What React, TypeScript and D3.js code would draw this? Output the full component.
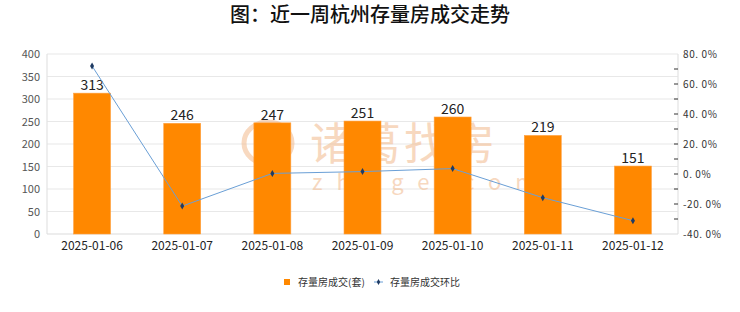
import React, { useEffect, useRef } from 'react';
import * as d3 from 'd3';

const dates = ['2025-01-06', '2025-01-07', '2025-01-08', '2025-01-09', '2025-01-10', '2025-01-11', '2025-01-12'];
const deals = [313, 246, 247, 251, 260, 219, 151];
const ratio = [0.72, -0.214, 0.004, 0.016, 0.036, -0.158, -0.311];
const leftTicks = [0, 50, 100, 150, 200, 250, 300, 350, 400];
const rightTicks = [-0.4, -0.2, 0, 0.2, 0.4, 0.6, 0.8];
const rightMinor = [-0.3, -0.2, -0.1, 0, 0.1, 0.2, 0.3, 0.4, 0.5, 0.6, 0.7];

const FONT = '"Noto Sans CJK SC", "Noto Sans", sans-serif';

export default function App() {
  const ref = useRef<SVGSVGElement>(null);

  useEffect(() => {
    const svg = d3.select(ref.current);
    svg.selectAll('*').remove();

    const W = 740, H = 312;
    const left = 47, right = 678, top = 54, bottom = 234;

    const x = d3.scaleBand().domain(dates).range([left, right]).paddingInner(0.59).paddingOuter(0.295);
    const y = d3.scaleLinear().domain([0, 400]).range([bottom, top]);
    const y2 = d3.scaleLinear().domain([-0.4, 0.8]).range([bottom, top]);

    svg.append('rect').attr('width', W).attr('height', H).attr('fill', '#fff');

    // title
    svg.append('text')
      .attr('x', 370).attr('y', 22)
      .attr('text-anchor', 'middle')
      .attr('font-family', FONT).attr('font-size', 20).attr('font-weight', 500)
      .attr('fill', '#111')
      .text('图：近一周杭州存量房成交走势');

    // grid
    svg.append('g').selectAll('line')
      .data(leftTicks.slice(1))
      .enter().append('line')
      .attr('x1', left).attr('x2', right)
      .attr('y1', d => y(d)).attr('y2', d => y(d))
      .attr('stroke', '#e8e8e8').attr('stroke-width', 1.2);

    // frame
    svg.append('line').attr('x1', left).attr('x2', left).attr('y1', top).attr('y2', bottom).attr('stroke', '#e3e3e3').attr('stroke-width', 1.2);
    svg.append('line').attr('x1', right).attr('x2', right).attr('y1', top).attr('y2', bottom).attr('stroke', '#e3e3e3').attr('stroke-width', 1.2);
    svg.append('line').attr('x1', left).attr('x2', right).attr('y1', bottom).attr('y2', bottom).attr('stroke', '#dcdcdc').attr('stroke-width', 1.2);

    // watermark
    const wm = svg.append('g').attr('opacity', 0.55).attr('fill', '#f2b98c');
    wm.append('ellipse').attr('cx', 268).attr('cy', 143).attr('rx', 24).attr('ry', 21).attr('fill', 'none')
      .attr('stroke', '#f2b98c').attr('stroke-width', 5);
    wm.append('path').attr('d', 'M268,124 C258,136 258,152 268,162 C278,152 278,136 268,124 Z');
    wm.append('text').attr('x', 310).attr('y', 160)
      .attr('font-family', FONT).attr('font-size', 44).attr('letter-spacing', 3)
      .text('诸葛找房');
    wm.append('text').attr('x', 312).attr('y', 190)
      .attr('font-family', FONT).attr('font-size', 22).attr('letter-spacing', 14)
      .text('zhuge.com');

    // bars
    svg.append('g').selectAll('rect')
      .data(deals)
      .enter().append('rect')
      .attr('x', (d, i) => x(dates[i])!)
      .attr('y', d => y(d))
      .attr('width', x.bandwidth())
      .attr('height', d => bottom - y(d))
      .attr('fill', '#ff8800')
      .attr('stroke', '#ffa040').attr('stroke-width', 0.6);

    svg.append('g').selectAll('text')
      .data(deals)
      .enter().append('text')
      .attr('x', (d, i) => x(dates[i])! + x.bandwidth() / 2)
      .attr('y', d => y(d) - 3)
      .attr('text-anchor', 'middle')
      .attr('font-family', FONT).attr('font-size', 14)
      .attr('fill', '#222')
      .text(d => d);

    // line
    const cx = (i: number) => x(dates[i])! + x.bandwidth() / 2;
    const line = d3.line<number>().x((d, i) => cx(i)).y(d => y2(d));
    svg.append('path').datum(ratio)
      .attr('d', line)
      .attr('fill', 'none').attr('stroke', '#6a9fd6').attr('stroke-width', 1);
    svg.append('g').selectAll('path')
      .data(ratio)
      .enter().append('path')
      .attr('d', d3.symbol(d3.symbolDiamond, 14))
      .attr('transform', (d, i) => `translate(${cx(i)},${y2(d)})`)
      .attr('fill', '#1f3b63');

    // left axis labels
    svg.append('g').selectAll('text')
      .data(leftTicks)
      .enter().append('text')
      .attr('x', 40).attr('y', d => y(d) + 4)
      .attr('text-anchor', 'end')
      .attr('font-family', FONT).attr('font-size', 11)
      .attr('fill', '#555')
      .text(d => d);

    // right axis ticks + labels
    svg.append('g').selectAll('line')
      .data(rightMinor)
      .enter().append('line')
      .attr('x1', 674).attr('x2', 678)
      .attr('y1', d => y2(d)).attr('y2', d => y2(d))
      .attr('stroke', '#333').attr('stroke-width', 1);
    svg.append('g').selectAll('text')
      .data(rightTicks)
      .enter().append('text')
      .attr('x', 683).attr('y', d => y2(d) + 4)
      .attr('font-family', FONT).attr('font-size', 10)
      .attr('letter-spacing', 0.6)
      .attr('fill', '#333')
      .text(d => (d * 100).toFixed(1).replace('.', '. ') + '%');

    // x labels
    svg.append('g').selectAll('text')
      .data(dates)
      .enter().append('text')
      .attr('x', d => x(d)! + x.bandwidth() / 2)
      .attr('y', 250)
      .attr('text-anchor', 'middle')
      .attr('font-family', FONT).attr('font-size', 12)
      .attr('fill', '#222')
      .text(d => d);

    // legend
    const lg = svg.append('g').attr('font-family', FONT).attr('font-size', 10).attr('fill', '#333');
    lg.append('rect').attr('x', 284).attr('y', 279).attr('width', 6).attr('height', 6).attr('fill', '#ff8800');
    lg.append('text').attr('x', 298).attr('y', 286).text('存量房成交(套)');
    lg.append('line').attr('x1', 374).attr('x2', 383).attr('y1', 282).attr('y2', 282).attr('stroke', '#6a9fd6');
    lg.append('path').attr('d', d3.symbol(d3.symbolDiamond, 10)).attr('transform', 'translate(378.5,282)').attr('fill', '#1f3b63');
    lg.append('text').attr('x', 390).attr('y', 286).text('存量房成交环比');
  }, []);

  return <svg ref={ref} width={740} height={312} style={{ display: 'block', position: 'absolute', left: 0, top: 0 }} />;
}
